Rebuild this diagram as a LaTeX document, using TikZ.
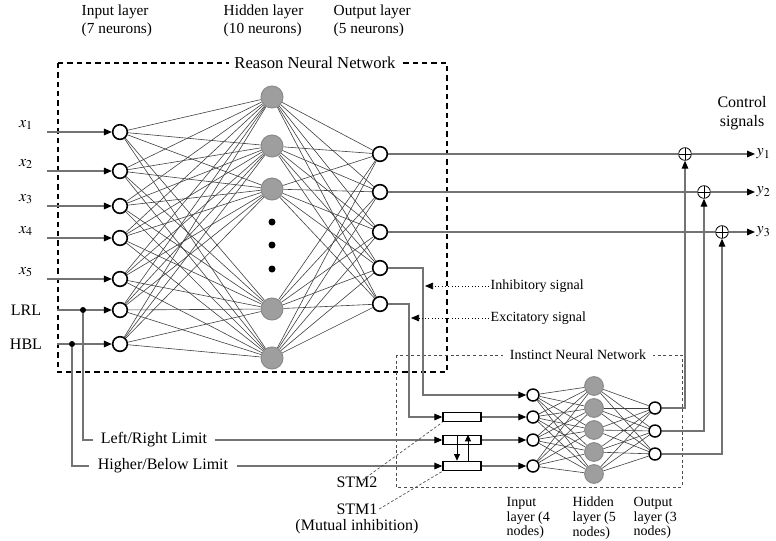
\documentclass[tikz,border=0pt]{standalone}
\usepackage{mathptmx}
\usepackage{fontspec}
\setmainfont{Liberation Serif}
\usetikzlibrary{arrows.meta}

\tikzset{every picture/.style={line width=0.6pt}}
\tikzset{
  neuron/.style={circle, draw=black, line width=1.2pt, fill=white, minimum size=11pt, inner sep=0pt},
  hid/.style={circle, draw=black!45, fill=black!38, line width=0.8pt, minimum size=16.5pt, inner sep=0pt},
  sneuron/.style={neuron, minimum size=9pt, line width=1.1pt},
  shid/.style={hid, minimum size=14pt},
  stmbox/.style={draw, line width=1pt, fill=white, minimum width=28.5pt, minimum height=7pt, inner sep=0pt},
  sumnode/.style={circle, draw, line width=0.6pt, minimum size=9.5pt, inner sep=0pt,
    path picture={\draw [line width=0.6pt] (path picture bounding box.north) -- (path picture bounding box.south)
      (path picture bounding box.west) -- (path picture bounding box.east);}},
  dotnode/.style={circle, fill=black, minimum size=4.5pt, inner sep=0pt},
  link/.style={draw=black!75, line width=0.45pt},
  wire/.style={draw=black!55, line width=0.8pt},
  sig/.style={wire, -{Triangle[length=6pt,width=5pt,color=black]}},
  minisig/.style={draw=black, line width=0.6pt, -{Triangle[length=5pt,width=4.5pt]}},
  dsig/.style={draw=black, line width=0.5pt, dotted, -{Triangle[length=6pt,width=5pt]}},
  hint/.style={draw=black!70, line width=0.5pt, dash pattern=on 2pt off 1.5pt},
  rframe/.style={draw=black, line width=1.3pt, dash pattern=on 4pt off 3pt},
  iframe/.style={draw=black!70, line width=0.5pt, dash pattern=on 2.2pt off 2pt},
  lbl/.style={font=\fontsize{12}{14}\selectfont, inner sep=1pt},
  slbl/.style={font=\fontsize{10.5}{11}\selectfont, inner sep=1pt},
  tlbl/.style={font=\fontsize{11.5}{13.5}\selectfont, inner sep=1pt, align=left, anchor=west}
}

\begin{document}
\begin{tikzpicture}[x=0.75pt,y=0.75pt,yscale=-1]
\useasboundingbox (0,0) rectangle (776,540);

%Frames
\draw [rframe] (58,63) rectangle (447,372);
\draw [iframe] (396,355) rectangle (682,487);

% Text Node
\node [lbl, font=\fontsize{12.5}{14}\selectfont, fill=white, inner xsep=4pt] (rnn) at (315,63) {Reason Neural Network};
% Text Node
\node [slbl, fill=white, inner xsep=5pt] (inn) at (578,355) {Instinct Neural Network};

% Text Node
\node [tlbl] (til) at (80,21) {Input layer\\(7 neurons)};
\node [tlbl] (thl) at (222,21) {Hidden layer\\(10 neurons)};
\node [tlbl] (tol) at (332,21) {Output layer\\(5 neurons)};

%Shape: Circle -- reason network
\foreach \n/\y in {1/132,2/171,3/206,4/238,5/279,6/310,7/344}
  \node [neuron] (i\n) at (120,\y) {};
\foreach \n/\y in {1/97,2/146,3/189,4/309,5/358}
  \node [hid] (h\n) at (272,\y) {};
\foreach \y in {222,245,269}
  \fill (272,\y) circle [radius=3.5];
\foreach \n/\y in {1/154,2/192,3/232,4/268,5/304}
  \node [neuron] (o\n) at (380,\y) {};

%Straight Lines
\foreach \a in {1,...,7}
  \foreach \b in {1,...,5}
    \draw [link] (i\a) -- (h\b);
\foreach \a in {1,...,5}
  \foreach \b in {1,...,5}
    \draw [link] (h\a) -- (o\b);

% Inputs
\foreach \n/\y in {1/132,2/171,3/206,4/238,5/279}{
  \node [lbl] (x\n) at (26,\y-7) {$x_\n$};
  \coordinate (s\n) at (47,\y);
  \draw [sig] (s\n) -- (i\n);
}
\node [lbl] (lrl) at (26,310) {LRL};
\node [lbl] (hbl) at (26,344) {HBL};
\coordinate (s6) at (57,310);
\coordinate (s7) at (57,344);
\draw [sig] (s6) -- (i6);
\draw [sig] (s7) -- (i7);
\node [dotnode] (d6) at (83,310) {};
\node [dotnode] (d7) at (72,344) {};

%Shape: Rectangle -- STM
\node [stmbox] (m1) at (462,417) {};
\node [stmbox] (m2) at (462,440) {};
\node [stmbox] (m3) at (462,466) {};
\draw [minisig] ([xshift=-3.75pt]m2.north) -- ([xshift=-3.75pt]m3.north);
\draw [minisig] ([xshift=4.5pt]m3.north) -- ([xshift=4.5pt]m2.north);

%Shape: Circle -- instinct network
\foreach \n/\y in {1/395,2/417,3/440,4/466}
  \node [sneuron] (a\n) at (533,\y) {};
\foreach \n/\y in {1/386,2/408,3/430,4/452,5/474}
  \node [shid] (b\n) at (594,\y) {};
\foreach \n/\y in {1/408,2/431,3/454}
  \node [sneuron] (c\n) at (655,\y) {};
\foreach \a in {1,...,4}
  \foreach \b in {1,...,5}
    \draw [link] (a\a) -- (b\b);
\foreach \a in {1,...,5}
  \foreach \b in {1,...,3}
    \draw [link] (b\a) -- (c\b);

% Limits
\draw [sig] (d6) |- (m2);
\draw [sig] (d7) |- (m3);
\node [lbl, fill=white, inner xsep=6pt] (lrlim) at (154,440) {Left/Right Limit};
\node [lbl, fill=white, inner xsep=7pt] (hblim) at (163,466) {Higher/Below Limit};

% Feedback from reason network
\coordinate (k4) at (423,330);
\coordinate (k5) at (409,360);
\draw [sig] (o4) -| (k4) |- (a1);
\draw [sig] (o5) -| (k5) |- (m1);
\draw [sig] (m1) -- (a2);
\draw [sig] (m2) -- (a3);
\draw [sig] (m3) -- (a4);

% Signals
\node [slbl, anchor=west] (inh) at (489,286) {Inhibitory signal};
\node [slbl, anchor=west] (exc) at (489,318) {Excitatory signal};
\coordinate (t1) at (425,286);
\coordinate (t2) at (411,318);
\draw [dsig] (inh) -- (t1);
\draw [dsig] (exc) -- (t2);

% Sums
\node [sumnode] (p1) at (685,154) {};
\node [sumnode] (p2) at (704,192) {};
\node [sumnode] (p3) at (722,232) {};
\node [lbl, anchor=west] (y1) at (755,154) {$y_1$};
\node [lbl, anchor=west] (y2) at (755,192) {$y_2$};
\node [lbl, anchor=west] (y3) at (755,232) {$y_3$};
\node [lbl, align=center] (ctl) at (742,113) {Control\\signals};
\foreach \n in {1,2,3}{
  \draw [wire] (o\n) -- (p\n);
  \draw [sig] (p\n) -- (y\n);
  \draw [sig] (c\n) -| (p\n);
}

% STM labels
\node [lbl] (stm2) at (357,482) {STM2};
\node [lbl] (stm1) at (357,509) {STM1};
\node [lbl] (mut) at (357,527) {(Mutual inhibition)};
\draw [hint] ([xshift=4pt,yshift=4pt]stm2.north) -- (m1.south west);
\draw [hint] (stm1.east) -- (m3.south west);

% Text Node
\node [tlbl, font=\fontsize{10.5}{11}\selectfont] (bil) at (505,518) {Input\\layer (4\\nodes)};
\node [tlbl, font=\fontsize{10.5}{11}\selectfont] (bhl) at (571,518) {Hidden\\layer (5\\nodes)};
\node [tlbl, font=\fontsize{10.5}{11}\selectfont] (bol) at (632,518) {Output\\layer (3\\nodes)};
\end{tikzpicture}
\end{document}
